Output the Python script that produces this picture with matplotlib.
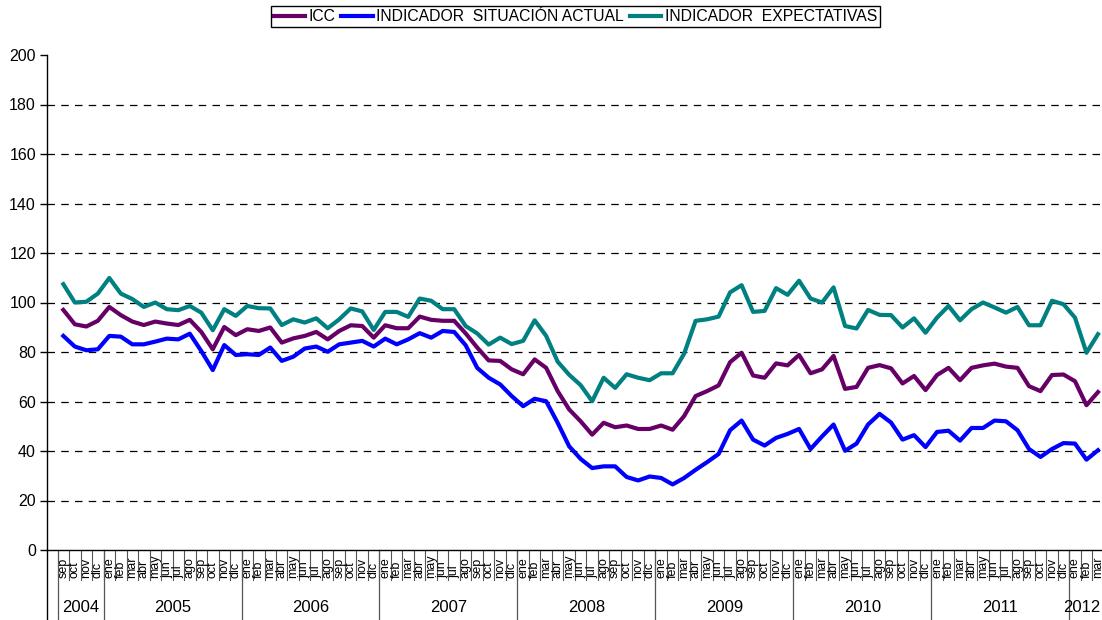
import numpy as np
import matplotlib
matplotlib.use("Agg")
import matplotlib.pyplot as plt
from matplotlib.transforms import blended_transform_factory

plt.rcParams["font.family"] = ["Liberation Sans", "DejaVu Sans"]

#monthly series, sep 2004 .. mar 2012
years = ["2004", "2005", "2006", "2007", "2008", "2009", "2010", "2011", "2012"]
months = ["ene", "feb", "mar", "abr", "may", "jun", "jul", "ago", "sep", "oct", "nov", "dic"]
month_labels = months[8:] + months * 7 + months[:3]
year_counts = [4, 12, 12, 12, 12, 12, 12, 12, 3]

icc = [97.0, 91.2, 90.3, 92.6, 98.2, 94.9, 92.3, 90.9, 92.3, 91.5, 90.9, 93.0, 88.1, 81.1, 90.1, 86.8, 89.2, 88.5,
       89.9, 83.8, 85.5, 86.5, 88.1, 85.1, 88.5, 90.8, 90.5, 85.8, 90.8, 89.6, 89.6, 94.3, 93.0, 92.6, 92.6,
       87.5, 81.8, 76.6, 76.4, 73.0, 71.0, 77.0, 73.6, 64.2, 56.8, 52.0, 46.6, 51.4, 49.6, 50.3, 48.9, 48.9, 50.3, 48.6,
       54.1, 62.2, 64.2, 66.5, 75.9, 79.7, 70.5, 69.6, 75.4, 74.6, 78.8, 71.4, 73.0, 78.4, 65.1, 65.9, 73.6, 74.7,
       73.4, 67.3, 70.3, 64.6, 70.7, 73.6, 68.6, 73.6, 74.6, 75.3, 74.1, 73.6, 66.2, 64.2, 70.7, 70.9, 68.2, 58.5, 63.8]

situacion = [86.5, 82.2, 80.7, 81.1, 86.5, 86.2, 83.1, 83.1, 84.2, 85.4, 85.1, 87.4, 80.4, 72.7, 82.8, 78.8, 79.1, 78.8,
             81.8, 76.4, 78.1, 81.4, 82.2, 80.1, 83.1, 83.8, 84.5, 82.2, 85.4, 83.1, 85.1, 87.6, 85.8, 88.5, 88.1,
             82.7, 73.6, 69.6, 66.9, 62.2, 58.1, 61.1, 60.1, 51.4, 41.9, 36.8, 33.1, 33.8, 33.8, 29.5, 28.1, 29.7, 29.1, 26.5,
             29.1, 32.4, 35.5, 38.8, 48.4, 52.3, 44.6, 42.2, 45.3, 46.9, 48.9, 40.8, 45.9, 50.7, 40.1, 43.0, 50.7, 55.0,
             51.5, 44.6, 46.4, 41.6, 47.7, 48.2, 44.2, 49.3, 49.3, 52.3, 52.0, 48.4, 40.8, 37.6, 40.8, 43.2, 43.0, 36.5, 40.3]

expectativas = [107.4, 100.0, 100.3, 103.6, 109.9, 103.6, 101.4, 98.2, 100.0, 97.3, 96.9, 98.6, 95.9, 88.8, 97.3, 94.6, 98.6, 97.7,
                97.6, 90.9, 93.2, 91.9, 93.6, 89.6, 93.2, 97.6, 96.4, 88.9, 96.2, 96.2, 94.2, 101.6, 100.7, 97.3, 97.3,
                90.5, 87.5, 83.0, 85.8, 83.2, 84.5, 92.8, 86.5, 76.1, 70.8, 66.6, 60.1, 69.6, 65.5, 71.0, 69.6, 68.6, 71.4, 71.4,
                79.3, 92.6, 93.2, 94.3, 104.1, 107.0, 96.2, 96.6, 105.8, 103.1, 108.8, 101.6, 100.0, 106.1, 90.5, 89.5, 97.0, 95.0,
                94.9, 89.9, 93.6, 87.8, 93.9, 98.6, 92.8, 97.3, 100.0, 98.0, 95.9, 98.2, 90.8, 90.8, 100.7, 99.3, 93.9, 79.7, 87.2]

x = np.arange(len(month_labels))

fig = plt.figure(figsize=(11.02, 6.2), dpi=100)
ax = fig.add_axes([47 / 1102, 70 / 620, 1055 / 1102, 495 / 620])

ax.plot(x, icc, color="#660066", lw=3.0, label="ICC", solid_joinstyle="round")
ax.plot(x, situacion, color="#0000FF", lw=3.0, label="INDICADOR  SITUACIÓN ACTUAL", solid_joinstyle="round")
ax.plot(x, expectativas, color="#008080", lw=3.0, label="INDICADOR  EXPECTATIVAS", solid_joinstyle="round")

xmax = 90.35
ax.set_xlim(-1.42, xmax)
ax.set_ylim(0, 200)
ax.set_yticks(range(0, 201, 20))
ax.tick_params(axis="y", labelsize=11.5, length=5, width=1, direction="out", pad=3)
ax.set_xticks([])
#dashed gridlines, none on the top (200) row
for v in range(20, 200, 20):
    ax.axhline(v, color="black", lw=0.9, linestyle=(0, (6, 5)), zorder=0)
for s in ["top", "right"]:
    ax.spines[s].set_visible(False)
ax.spines["left"].set_linewidth(1)
ax.spines["bottom"].set_linewidth(1)

#two-level category axis drawn below the plot
tr = blended_transform_factory(ax.transData, ax.transAxes)
y_month = -30 / 495
y_bottom = -70 / 495
ax.plot([-1.42, -1.42], [0, y_bottom], color="black", lw=1, transform=tr, clip_on=False)
for i, lab in enumerate(month_labels):
    ax.text(i, -28 / 495, lab, rotation=90, ha="center", va="bottom", fontsize=9,
            transform=tr, clip_on=False)
    ax.plot([i + 0.5, i + 0.5], [0, y_month], color="#555555", lw=0.8, transform=tr, clip_on=False)
start = -0.5
for yr, n in zip(years, year_counts):
    ax.plot([start, start], [0, y_bottom], color="#555555", lw=0.9, transform=tr, clip_on=False)
    if start + n > xmax:
        #last year group is cut by the edge: keep its label inside
        ax.text(xmax - 0.15, -57 / 495, yr, ha="right", va="center", fontsize=12,
                transform=tr, clip_on=False)
    else:
        ax.text(start + n / 2, -57 / 495, yr, ha="center", va="center", fontsize=12,
                transform=tr, clip_on=False)
    start += n

fig.legend(loc="center", bbox_to_anchor=(0.522, 0.973), ncol=3, fontsize=11.3,
           frameon=True, fancybox=False, edgecolor="black", framealpha=1,
           handlelength=2.0, handletextpad=0.2, columnspacing=0.4,
           borderpad=0.2, borderaxespad=0)

fig.savefig("out.png", dpi=100)
